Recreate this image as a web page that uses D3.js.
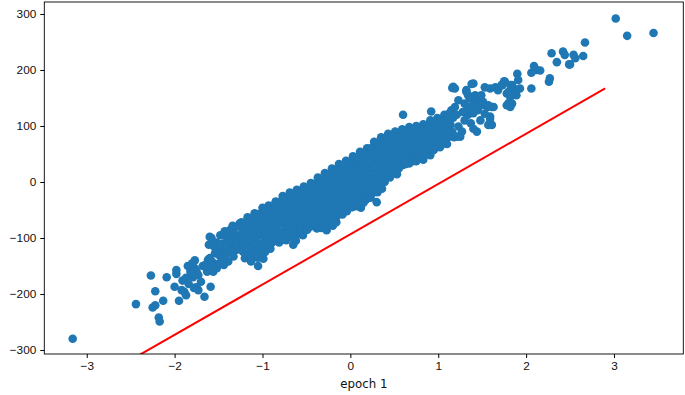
<!DOCTYPE html>
<html>
<head>
    <meta charset="utf-8">
    <title>epoch 1</title>
    <style>
        body { margin: 0; background: #fff; }
        svg { display: block; font-family: "DejaVu Sans", sans-serif; }
        .axis text { font-size: 11.8px; fill: #111; }
        .axis line, .axis path { stroke: #000; }
    </style>
    <script src="https://d3js.org/d3.v7.min.js"></script>
</head>
<body>
    <div id="chart"></div>

    <script>
        // ticks
        var xTicks = [-3, -2, -1, 0, 1, 2, 3];
        var yTicks = [-300, -200, -100, 0, 100, 200, 300];

        // scattered points on the low end
        var leftTail = [
            [-3.16,-280],[-2.44,-218],[-2.27,-167],[-2.22,-195],[-2.25,-224],[-2.22,-220],
            [-2.18,-242],[-2.17,-249],[-2.13,-212],[-2.09,-170],[-1.98,-157],[-1.98,-164],
            [-2.00,-187],[-1.95,-212],[-1.92,-193],[-1.91,-176],[-1.87,-171],[-1.89,-196],
            [-1.87,-202],[-1.77,-140],[-1.77,-154],[-1.75,-160],[-1.79,-170],[-1.73,-166],
            [-1.73,-193],[-1.75,-188],[-1.66,-205],[-1.59,-187],[-1.60,-98],[-1.61,-112],
            [-1.62,-139],[-1.63,-160],[-1.56,-160],[-1.52,-154],[-1.50,-146],[-1.54,-127],
            [-1.48,-95],[-1.46,-121],[-1.45,-110],[-1.41,-98],[-1.37,-86],[-1.33,-91],
            [-1.35,-112],[-1.29,-80],[-1.26,-74],[-1.33,-133],[-1.39,-142],[-1.44,-148],
            [-1.42,-130],[-1.38,-120],[-1.30,-105],[-1.28,-120],[-1.47,-135],[-1.57,-143],
            [-1.68,-150],[-1.70,-178],[-1.84,-182],[-1.82,-160],[-1.60,-136],[-1.58,-100],
            [-1.78,-189],[-1.85,-150],[-1.80,-145],[-1.52,-108],[-1.49,-122],[-1.40,-108],
            [-1.43,-88],[-1.34,-78],[-1.31,-122],[-1.36,-100],
            [-1.55,-115],[-1.50,-130],[-1.45,-140],[-1.40,-125],[-1.35,-125],[-1.32,-98],
            [-1.27,-95],[-1.27,-108],[-1.58,-150],[-1.65,-148]
        ];

        // the dense middle of the cloud
        var coreBand = [
            [-1.24,-72],[-1.22,-85],[-1.25,-97],[-1.21,-110],[-1.23,-123],[-1.20,-136],
            [-1.17,-63],[-1.15,-77],[-1.18,-90],[-1.16,-103],[-1.14,-116],[-1.17,-129],[-1.13,-140],
            [-1.09,-56],[-1.07,-69],[-1.10,-82],[-1.08,-95],[-1.06,-108],[-1.09,-121],[-1.07,-134],[-1.05,-150],
            [-1.00,-46],[-1.02,-59],[-0.99,-72],[-1.01,-85],[-0.98,-98],[-1.00,-111],[-1.02,-124],[-0.99,-137],
            [-0.93,-42],[-0.91,-55],[-0.94,-68],[-0.92,-81],[-0.90,-94],[-0.93,-107],[-0.91,-119],
            [-0.85,-35],[-0.83,-48],[-0.86,-61],[-0.84,-74],[-0.82,-87],[-0.85,-100],[-0.81,-108],
            [-0.77,-25],[-0.75,-38],[-0.78,-51],[-0.76,-64],[-0.74,-77],[-0.77,-90],[-0.75,-103],
            [-0.69,-19],[-0.67,-33],[-0.70,-46],[-0.68,-59],[-0.66,-72],[-0.69,-85],[-0.67,-98],[-0.65,-112],
            [-0.61,-14],[-0.59,-27],[-0.62,-40],[-0.60,-53],[-0.58,-66],[-0.61,-79],[-0.59,-92],[-0.62,-105],
            [-0.53,-8],[-0.51,-21],[-0.54,-34],[-0.52,-47],[-0.50,-60],[-0.53,-73],[-0.51,-86],[-0.54,-95],
            [-0.45,-2],[-0.43,-15],[-0.46,-28],[-0.44,-41],[-0.42,-54],[-0.45,-67],[-0.46,-80],
            [-0.37,8],[-0.35,-5],[-0.38,-18],[-0.36,-31],[-0.34,-44],[-0.37,-57],[-0.35,-70],[-0.38,-83],
            [-0.29,16],[-0.27,3],[-0.30,-10],[-0.28,-23],[-0.26,-36],[-0.29,-49],[-0.27,-62],[-0.30,-75],[-0.27,-86],
            [-0.21,24],[-0.19,11],[-0.22,-2],[-0.20,-15],[-0.18,-28],[-0.21,-41],[-0.19,-54],[-0.22,-67],[-0.20,-78],
            [-0.13,32],[-0.11,19],[-0.14,6],[-0.12,-7],[-0.10,-20],[-0.13,-33],[-0.11,-46],[-0.14,-59],[-0.16,-72],
            [-0.05,38],[-0.03,25],[-0.06,12],[-0.04,-1],[-0.02,-14],[-0.05,-27],[-0.03,-40],[-0.04,-52],
            [0.03,46],[0.05,33],[0.02,20],[0.04,7],[0.06,-6],[0.03,-19],[0.05,-32],[0.02,-45],
            [0.11,54],[0.13,41],[0.10,28],[0.12,15],[0.14,2],[0.11,-11],[0.13,-24],[0.10,-37],[0.12,-46],
            [0.19,60],[0.21,47],[0.18,34],[0.20,21],[0.22,8],[0.19,-5],[0.21,-18],[0.18,-31],
            [0.27,72],[0.29,59],[0.26,46],[0.28,33],[0.30,20],[0.27,7],[0.29,-6],[0.26,-19],[0.30,-36],
            [0.35,80],[0.37,67],[0.34,54],[0.36,41],[0.38,28],[0.35,15],[0.37,2],[0.36,-12],
            [0.43,86],[0.45,73],[0.42,60],[0.44,47],[0.46,34],[0.43,21],[0.45,8],
            [0.51,90],[0.53,77],[0.50,64],[0.52,51],[0.54,38],[0.51,25],[0.53,14],
            [0.59,94],[0.61,81],[0.58,68],[0.60,55],[0.62,42],[0.59,30],
            [0.67,98],[0.69,85],[0.66,72],[0.68,59],[0.70,46],[0.67,33],
            [0.75,100],[0.77,87],[0.74,74],[0.76,61],[0.78,48],[0.75,37],
            [0.83,103],[0.85,90],[0.82,77],[0.84,64],[0.86,51],[0.83,40],
            [0.91,110],[0.93,97],[0.90,84],[0.92,71],[0.94,58],[0.91,48],
            [0.99,114],[1.01,101],[0.98,88],[1.00,75],[1.02,62],
            [1.07,120],[1.09,107],[1.06,94],[1.08,81],[1.10,68],
            [1.15,128],[1.17,115],[1.14,102],[1.16,89],[1.18,80],
            [0.60,120],[0.92,126],[1.11,120],[1.16,168],[1.13,123],[1.17,170]
        ];

        // points between the core columns, where the cloud is solid
        var coreFill = [
            [-1.21,-74],[-1.21,-87],[-1.21,-100],[-1.21,-113],[-1.21,-126],
            [-1.13,-66],[-1.13,-79],[-1.13,-92],[-1.13,-105],[-1.13,-118],[-1.13,-131],[-1.13,-142],
            [-1.05,-57],[-1.05,-70],[-1.05,-83],[-1.05,-96],[-1.05,-109],[-1.05,-122],[-1.05,-135],
            [-0.97,-50],[-0.97,-63],[-0.97,-76],[-0.97,-89],[-0.97,-102],[-0.97,-115],[-0.97,-125],
            [-0.89,-44],[-0.89,-57],[-0.89,-70],[-0.89,-83],[-0.89,-96],[-0.89,-108],
            [-0.81,-36],[-0.81,-49],[-0.81,-62],[-0.81,-75],[-0.81,-88],[-0.81,-100],
            [-0.73,-28],[-0.73,-41],[-0.73,-54],[-0.73,-67],[-0.73,-80],[-0.73,-93],[-0.73,-104],
            [-0.65,-23],[-0.65,-36],[-0.65,-49],[-0.65,-62],[-0.65,-75],[-0.65,-88],[-0.65,-100],
            [-0.57,-17],[-0.57,-30],[-0.57,-43],[-0.57,-56],[-0.57,-69],[-0.57,-82],[-0.57,-93],
            [-0.49,-11],[-0.49,-24],[-0.49,-37],[-0.49,-50],[-0.49,-63],[-0.49,-76],[-0.49,-85],
            [-0.41,-3],[-0.41,-16],[-0.41,-29],[-0.41,-42],[-0.41,-55],[-0.41,-68],[-0.41,-79],
            [-0.33,6],[-0.33,-7],[-0.33,-20],[-0.33,-33],[-0.33,-46],[-0.33,-59],[-0.33,-72],[-0.33,-82],
            [-0.25,14],[-0.25,1],[-0.25,-12],[-0.25,-25],[-0.25,-38],[-0.25,-51],[-0.25,-64],[-0.25,-76],
            [-0.17,22],[-0.17,9],[-0.17,-4],[-0.17,-17],[-0.17,-30],[-0.17,-43],[-0.17,-56],[-0.17,-68],
            [-0.09,29],[-0.09,16],[-0.09,3],[-0.09,-10],[-0.09,-23],[-0.09,-36],[-0.09,-49],[-0.09,-58],
            [-0.01,36],[-0.01,23],[-0.01,10],[-0.01,-3],[-0.01,-16],[-0.01,-29],[-0.01,-42],
            [0.07,44],[0.07,31],[0.07,18],[0.07,5],[0.07,-8],[0.07,-21],[0.07,-34],[0.07,-43],
            [0.15,51],[0.15,38],[0.15,25],[0.15,12],[0.15,-1],[0.15,-14],[0.15,-27],[0.15,-37],
            [0.23,60],[0.23,47],[0.23,34],[0.23,21],[0.23,8],[0.23,-5],[0.23,-18],[0.23,-28],
            [0.31,70],[0.31,57],[0.31,44],[0.31,31],[0.31,18],[0.31,5],[0.31,-8],[0.31,-18],
            [0.39,77],[0.39,64],[0.39,51],[0.39,38],[0.39,25],[0.39,12],[0.39,0],
            [0.47,82],[0.47,69],[0.47,56],[0.47,43],[0.47,30],[0.47,17],
            [0.55,86],[0.55,73],[0.55,60],[0.55,47],[0.55,34],[0.55,24],
            [0.63,90],[0.63,77],[0.63,64],[0.63,51],[0.63,38],[0.63,32],
            [0.71,93],[0.71,80],[0.71,67],[0.71,54],[0.71,41],[0.71,37],
            [0.79,95],[0.79,82],[0.79,69],[0.79,56],[0.79,45],
            [0.87,100],[0.87,87],[0.87,74],[0.87,61],[0.87,50],
            [0.95,106],[0.95,93],[0.95,80],[0.95,67],[0.95,57],
            [1.03,111],[1.03,98],[1.03,85],[1.03,72],[1.03,65],
            [1.11,118],[1.11,105],[1.11,92],[1.11,80]
        ];

        // scattered points on the high end
        var rightTail = [
            [1.21,120],[1.23,99],[1.25,81],[1.27,90],[1.21,81],[1.19,167],[1.23,146],[1.19,134],
            [1.34,129],[1.34,120],[1.40,123],[1.44,90],[1.59,117],[1.61,102],
            [1.42,141],[1.46,144],[1.50,137],[1.56,134],[1.61,134],[1.42,155],[1.46,152],[1.47,146],
            [1.32,164],[1.34,155],[1.36,149],[1.40,176],[1.38,175],[1.32,161],
            [1.30,140],[1.28,125],[1.38,135],[1.45,128],[1.30,110],[1.37,105],[1.48,110],[1.40,95],
            [1.53,169],[1.59,167],[1.65,169],[1.53,122],[1.59,113],[1.57,102],[1.51,143],[1.57,137],
            [1.63,134],[1.78,137],[1.84,140],[1.49,155],[1.68,164],[1.78,158],[1.89,155],
            [1.76,179],[1.72,173],[1.84,173],[1.85,161],
            [1.82,152],[1.80,141],[1.82,134],[1.80,161],[1.82,173],[1.86,167],[1.89,164],[1.93,167],
            [1.75,180],[1.73,173],[1.90,193],[1.91,182],[2.06,167],
            [2.09,207],[2.12,200],[2.16,199],[2.06,195],[2.27,185],[2.26,179],
            [2.29,230],[2.42,233],[2.44,227],[2.54,227],[2.65,225],[2.35,214],[2.49,210],
            [2.56,221],[2.50,210],[2.67,249],
            [3.02,292],[3.15,261],[3.45,266]
        ];

        // fitted line (red)
        var lineX = [-3.16, 2.90];
        var lineY = [-377, 167];

        var margin = {top: 2, right: 1.7, bottom: 41, left: 44.3};
        var width = 685 - margin.left - margin.right;
        var height = 395 - margin.top - margin.bottom;

        var x = d3.scaleLinear().domain([-3.483, 3.789]).range([0, width]);
        var y = d3.scaleLinear().domain([-307.1, 321.4]).range([height, 0]);

        var svg = d3.select("#chart").append("svg")
            .attr("width", 685)
            .attr("height", 395)
            .append("g")
            .attr("transform", "translate(" + margin.left + "," + margin.top + ")");

        svg.append("clipPath").attr("id", "clip")
            .append("rect").attr("width", width).attr("height", height);

        var plot = svg.append("g").attr("clip-path", "url(#clip)");

        var points = leftTail.concat(coreBand, coreFill, rightTail);

        plot.selectAll("circle")
            .data(points)
            .enter().append("circle")
            .attr("cx", function(d) { return x(d[0]); })
            .attr("cy", function(d) { return y(d[1]); })
            .attr("r", 4.3)
            .attr("fill", "#1f77b4");

        var linePts = lineX.map(function(v, i) { return [v, lineY[i]]; });
        plot.append("path")
            .datum(linePts)
            .attr("fill", "none")
            .attr("stroke", "#ff0000")
            .attr("stroke-width", 2)
            .attr("d", d3.line().x(function(d) { return x(d[0]); }).y(function(d) { return y(d[1]); }));

        svg.append("g")
            .attr("class", "axis")
            .attr("transform", "translate(0," + height + ")")
            .call(d3.axisBottom(x).tickValues(xTicks).tickSize(4).tickPadding(4))
            .call(function(g) { g.select(".domain").remove(); });

        svg.append("g")
            .attr("class", "axis")
            .call(d3.axisLeft(y).tickValues(yTicks).tickSize(4).tickPadding(4))
            .call(function(g) { g.select(".domain").remove(); });

        svg.append("rect")
            .attr("width", width)
            .attr("height", height)
            .attr("fill", "none")
            .attr("stroke", "#000")
            .attr("stroke-width", 0.9);

        svg.append("text")
            .attr("x", width / 2)
            .attr("y", height + 34)
            .style("text-anchor", "middle")
            .style("font-size", "11.8px")
            .style("fill", "#111")
            .text("epoch 1");
    </script>
</body>
</html>
